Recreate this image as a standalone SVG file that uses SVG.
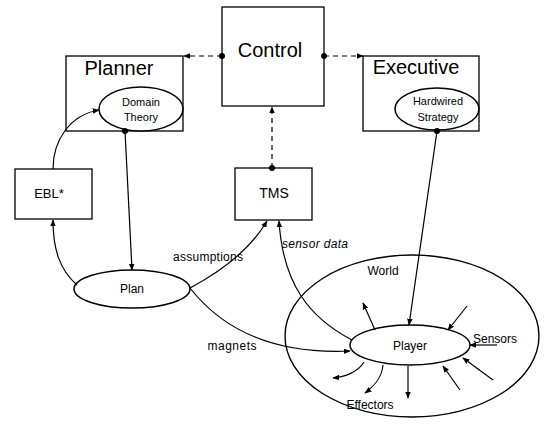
<svg xmlns="http://www.w3.org/2000/svg" width="544" height="424" viewBox="0 0 544 424">
<defs>
<marker id="arr" viewBox="0 0 10 10" refX="9" refY="5" markerWidth="7" markerHeight="7" markerUnits="userSpaceOnUse" orient="auto"><path d="M0,1 L10,5 L0,9 z" fill="#000"/></marker>
<marker id="dot" viewBox="0 0 10 10" refX="5" refY="5" markerWidth="6" markerHeight="6" markerUnits="userSpaceOnUse"><circle cx="5" cy="5" r="5" fill="#000"/></marker>
</defs>
<style>
.box{fill:none;stroke:#000;stroke-width:1.3}
.ell{fill:#fff;stroke:#000;stroke-width:1.5}
text{font-family:"Liberation Sans",Arial,sans-serif;fill:#000;text-anchor:middle}
.c{stroke:#000;stroke-width:1.2;fill:none;marker-end:url(#arr)}
.d{stroke-dasharray:5,4;marker-start:url(#dot)}
.s{marker-start:url(#dot)}
.big{font-size:20px}
.sm{font-size:11px}
.lb{font-size:12px}
</style>
<rect width="544" height="424" fill="#fff"/>
<g id="world"><ellipse cx="412" cy="336" rx="127" ry="81" fill="none" stroke="#000" stroke-width="1.4"/><text class="lb" x="383" y="275">World</text></g>
<g id="control"><rect class="box" x="222" y="7" width="102" height="99"/><text class="big" x="270" y="57">Control</text></g>
<g id="planner"><rect class="box" x="66" y="56" width="117" height="75"/><text class="big" x="119" y="75">Planner</text></g>
<g id="domain-theory"><ellipse class="ell" cx="141" cy="109" rx="42" ry="22"/><text class="sm" x="141" y="106">Domain</text><text class="sm" x="141" y="121">Theory</text></g>
<g id="executive"><rect class="box" x="363" y="56" width="116" height="75"/><text class="big" x="416" y="74">Executive</text></g>
<g id="hardwired-strategy"><ellipse class="ell" cx="437" cy="109" rx="42" ry="21"/><text class="sm" x="438" y="105">Hardwired</text><text class="sm" x="438" y="121">Strategy</text></g>
<g id="ebl"><rect class="box" x="15" y="169" width="77" height="50"/><text x="49" y="198" font-size="13">EBL*</text></g>
<g id="tms"><rect class="box" x="235" y="168" width="77" height="52"/><text x="274" y="198" font-size="14">TMS</text></g>
<g id="plan"><ellipse class="ell" cx="132" cy="289" rx="58" ry="19"/><text class="lb" x="132" y="293">Plan</text></g>
<g id="player"><ellipse class="ell" cx="410" cy="345" rx="60" ry="20"/><text class="lb" x="410" y="350">Player</text></g>
<g id="labels"><text class="lb" x="495" y="343">Sensors</text><text class="lb" x="370" y="409">Effectors</text></g>
<g id="connectors">
<path class="c d" d="M222,56 L184,56"/>
<path class="c d" d="M324,56 L363,56"/>
<path class="c d" d="M272,168 L272,107"/>
<path class="c s" d="M125,131 L132,270"/>
<path class="c s" d="M437,131 L409,325"/>
<path class="c" d="M53,169 C53,140 70,115 99,110"/>
<path class="c" d="M77,285 C60,270 53,250 53,220"/>
<path class="c" d="M190,288 C220,272 250,250 267,221"/>
<path class="c" d="M190,288 C215,320 260,355 350,351"/>
<path class="c" d="M352,340 C310,318 283,285 279,221"/>
<path class="c" d="M375,330 L363,303"/>
<path class="c" d="M467,306 L448,330"/>
<path class="c" d="M497,345 L470,345"/>
<path class="c" d="M493,380 L463,358"/>
<path class="c" d="M460,390 L443,366"/>
<path class="c" d="M408,366 L408,398"/>
<path class="c" d="M383,365 C382,378 372,388 365,393"/>
<path class="c" d="M364,362 C358,372 345,377 333,378"/>
<text class="lb" x="208" y="261" textLength="70">assumptions</text>
<text class="lb" x="315" y="248" font-style="italic" textLength="66">sensor data</text>
<text class="lb" x="232" y="350" textLength="49">magnets</text>
</g>
</svg>
